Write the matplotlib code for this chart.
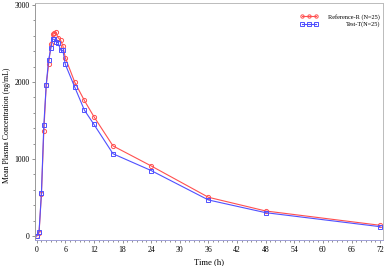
import matplotlib
matplotlib.use("Agg")
import matplotlib.pyplot as plt
from matplotlib.ticker import MultipleLocator

plt.rcParams['font.family'] = ['Liberation Serif', 'DejaVu Serif']

time_h = [0, 0.5, 1, 1.5, 2, 2.5, 3, 3.33, 3.67, 4, 4.5, 5, 5.5, 6, 8, 10, 12, 16, 24, 36, 48, 72]
ref_r = [0, 40, 550, 1360, 1960, 2230, 2490, 2620, 2630, 2645, 2575, 2545, 2470, 2315,
         1995, 1760, 1550, 1170, 910, 503, 325, 139]
test_t = [0, 55, 560, 1440, 1960, 2285, 2445, 2555, 2555, 2525, 2510, 2415, 2410, 2230,
          1930, 1635, 1450, 1068, 850, 468, 303, 121]
xticks = [0, 6, 12, 18, 24, 30, 36, 42, 48, 54, 60, 66, 72]
yticks = [0, 1000, 2000, 3000]

fig = plt.figure(figsize=(3.87, 2.66), dpi=100)
ax = fig.add_axes([35/387, 26/266, 348/387, 237/266])

red = '#ff5050'
blue = '#5050ff'
ax.plot(time_h, ref_r, color=red, lw=0.8, marker='o', ms=3.0, mfc='none', mew=0.7,
        label='Reference-R (N=25)')
ax.plot(time_h, test_t, color=blue, lw=0.8, marker='s', ms=2.8, mfc='none', mew=0.7,
        label='Test-T(N=25)')

ax.set_xlim(-0.35, 72.6)
ax.set_ylim(-52, 3026)
ax.set_xticks(xticks)
ax.set_yticks(yticks)
ax.xaxis.set_minor_locator(MultipleLocator(1))
ax.yaxis.set_minor_locator(MultipleLocator(200))
ax.tick_params(labelsize=5.6, length=2, width=0.5, color='#666666', pad=2)
ax.tick_params(which='minor', length=1.2, width=0.5, color='#666666')
for s in ax.spines.values():
    s.set_color('#bbbbbb')
    s.set_linewidth(0.7)
ax.spines['bottom'].set_color('#a0a0d8')
ax.spines['left'].set_color('#999999')

ax.set_xlabel('Time (h)', fontsize=6.2, labelpad=3)
ax.set_ylabel('Mean Plasma Concentration (ng/mL)', fontsize=5.6)
ax.yaxis.set_label_coords(-0.068, 0.485)

leg = ax.legend(loc='upper right', frameon=False, fontsize=4.5, numpoints=3,
                handlelength=2.7, handletextpad=1.7, borderaxespad=0.2,
                labelspacing=0.25, markerscale=0.8, bbox_to_anchor=(1.002, 0.97))

# right-align the legend labels while keeping the handles aligned
fig.canvas.draw()
r = fig.canvas.get_renderer()
texts = leg.get_texts()
widths = [t.get_window_extent(r).width for t in texts]
wmax = max(widths)
for t, w in zip(texts, widths):
    t.set_x(wmax - w)

fig.savefig('out.png', dpi=100)
